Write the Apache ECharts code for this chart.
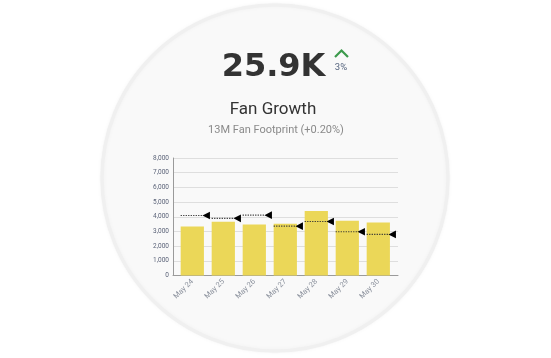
<!DOCTYPE html>
<html>
<head>
<meta charset="utf-8">
<script src="https://cdn.jsdelivr.net/npm/echarts@6/dist/echarts.min.js"></script>
<style>
html,body{margin:0;padding:0;background:#fff;}
#main{width:551px;height:358px;}
</style>
</head>
<body>
<div id="main"></div>
<script>
const categories = ['May 24', 'May 25', 'May 26', 'May 27', 'May 28', 'May 29', 'May 30'];
const actualValues = [3340, 3660, 3480, 3520, 4390, 3730, 3610];
const targetValues = [4090, 3890, 4110, 3360, 3680, 2980, 2800];
const yMin = 0, yMax = 8000, yInterval = 1000;
const kpiValue = '25.9K';
const kpiChange = '3%';
const kpiTitle = 'Fan Growth';
const kpiSubtitle = '13M Fan Footprint (+0.20%)';

const chart = echarts.init(document.getElementById('main'), null, {renderer: 'canvas'});

const targetData = categories.map((c, i) => [i, targetValues[i]]);

const option = {
  animation: false,
  backgroundColor: '#ffffff',
  graphic: [
    {
      type: 'circle', z: -100,
      shape: {cx: 275, cy: 178, r: 173},
      style: {fill: '#f9f9f9', stroke: '#f0f0f0', lineWidth: 3.5,
              shadowBlur: 4, shadowColor: 'rgba(0,0,0,0.035)'}
    },
    {
      type: 'text', z: 10,
      style: {text: kpiValue, x: 273.5, y: 67.5, textAlign: 'center', textVerticalAlign: 'middle',
              font: 'bold 32px "DejaVu Sans"', fill: '#333333'}
    },
    {
      type: 'polyline', z: 10,
      shape: {points: [[335, 57], [341.5, 50.5], [348, 57]]},
      style: {stroke: '#3c9a4c', lineWidth: 2.2, fill: null}
    },
    {
      type: 'text', z: 10,
      style: {text: kpiChange, x: 341, y: 67.5, textAlign: 'center', textVerticalAlign: 'middle',
              font: '9.5px Roboto', fill: '#56657f'}
    },
    {
      type: 'text', z: 10,
      style: {text: kpiTitle, x: 273, y: 109.5, textAlign: 'center', textVerticalAlign: 'middle',
              font: '17px Roboto', fill: '#333333'}
    },
    {
      type: 'text', z: 10,
      style: {text: kpiSubtitle, x: 276, y: 130.5, textAlign: 'center', textVerticalAlign: 'middle',
              font: '11px Roboto', fill: '#8a8a8a'}
    }
  ],
  grid: [
    {left: 173, top: 158, width: 225, height: 117.5},
    {left: 176.8, top: 158, width: 217, height: 117.5}
  ],
  xAxis: [
    {
      type: 'category', gridIndex: 0, data: categories,
      axisLine: {show: true, lineStyle: {color: '#9a9a9a', width: 1}},
      axisTick: {show: false}, axisLabel: {show: false}, splitLine: {show: false}
    },
    {
      type: 'category', gridIndex: 1, data: categories,
      axisLine: {show: false}, axisTick: {show: false},
      axisLabel: {show: true, rotate: 45, fontSize: 7.5, color: '#8a909c', margin: 5,
                  fontFamily: 'Roboto'}
    }
  ],
  yAxis: [
    {
      type: 'value', gridIndex: 0, min: yMin, max: yMax, interval: yInterval,
      axisLine: {show: true, lineStyle: {color: '#9a9a9a', width: 1}},
      axisTick: {show: false},
      splitLine: {show: true, lineStyle: {color: '#dedede', width: 1}},
      axisLabel: {fontSize: 6.5, color: '#5b6378', margin: 4, fontFamily: 'Roboto',
                  formatter: v => v.toLocaleString('en-US')}
    },
    {
      type: 'value', gridIndex: 1, min: yMin, max: yMax, interval: yInterval,
      show: false
    }
  ],
  series: [
    {
      type: 'bar', xAxisIndex: 1, yAxisIndex: 1, data: actualValues,
      barWidth: '75%',
      itemStyle: {color: '#ebd758'}
    },
    {
      type: 'custom', xAxisIndex: 1, yAxisIndex: 1, data: targetData, z: 5,
      renderItem: function (params, api) {
        const p = api.coord([api.value(0), api.value(1)]);
        const band = api.size([1, 0])[0];
        const bw = band * 0.75;
        const x0 = p[0] - bw / 2, x1 = p[0] + bw / 2;
        return {
          type: 'group',
          children: [
            {type: 'line', shape: {x1: x0, y1: p[1], x2: x1 - 1, y2: p[1]},
             style: {stroke: '#333', lineWidth: 1.1, lineDash: [1.2, 1.3]}},
            {type: 'polygon', shape: {points: [[x1 - 1.5, p[1]], [x1 + 6, p[1] - 3.8], [x1 + 6, p[1] + 3.8]]},
             style: {fill: '#000'}}
          ]
        };
      }
    }
  ]
};
chart.setOption(option);
</script>
</body>
</html>
